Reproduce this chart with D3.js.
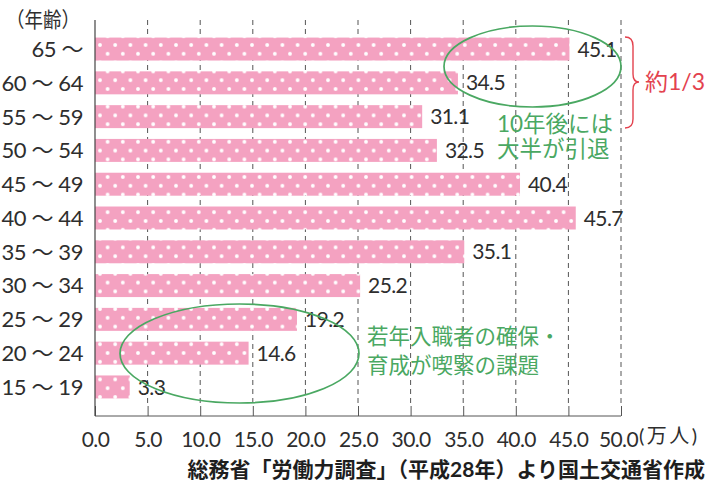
<!DOCTYPE html>
<html>
<head>
<meta charset="utf-8">
<script src="https://cdn.jsdelivr.net/npm/d3@7"></script>
<style>
  html, body { margin: 0; padding: 0; background: #fff; }
  svg { display: block; }
  text { font-family: Lato, "Noto Sans CJK JP", sans-serif; }
</style>
</head>
<body>
<svg id="chart" width="710" height="481"></svg>
<script>
// Workforce by age group (10k people)
const ageGroups = ["65 ～", "60 ～ 64", "55 ～ 59", "50 ～ 54", "45 ～ 49", "40 ～ 44",
                   "35 ～ 39", "30 ～ 34", "25 ～ 29", "20 ～ 24", "15 ～ 19"];
const workers = [45.1, 34.5, 31.1, 32.5, 40.4, 45.7, 35.1, 25.2, 19.2, 14.6, 3.3];
const xTicks = [0, 5, 10, 15, 20, 25, 30, 35, 40, 45, 50];

const svg = d3.select("#chart");
const plotLeft = 95, plotRight = 621, plotTop = 20, plotBottom = 416;

const x = d3.scaleLinear().domain([0, 50]).range([plotLeft, plotRight]);
const y = d3.scaleBand().domain(ageGroups).range([plotTop, plotBottom])
  .paddingInner(0.32).paddingOuter(0.52);

const pink = "#f4a2c1";
const green = "#4aa862";
const red = "#e3424e";
const ink = "#2e2e2e";

// polka-dot fill
const defs = svg.append("defs");
const pat = defs.append("pattern").attr("id", "dots")
  .attr("patternUnits", "userSpaceOnUse")
  .attr("width", 15.2).attr("height", 17.6).attr("x", 100).attr("y", 45);
pat.append("rect").attr("width", 15.2).attr("height", 17.6).attr("fill", pink);
[[0, 0], [15.2, 0], [0, 17.6], [15.2, 17.6], [7.6, 8.8]].forEach(([cx, cy]) =>
  pat.append("circle").attr("cx", cx).attr("cy", cy).attr("r", 1.9).attr("fill", "#fff"));

// dashed gridlines
svg.append("g").selectAll("line").data(xTicks.slice(1)).join("line")
  .attr("x1", d => x(d)).attr("x2", d => x(d))
  .attr("y1", plotTop).attr("y2", plotBottom - 9)
  .attr("stroke", "#555").attr("stroke-width", 1).attr("stroke-dasharray", "5,4");

// bottom axis with short upward ticks
const xAxis = d3.axisBottom(x).tickValues(xTicks).tickSize(-10)
  .tickFormat(d3.format(".1f")).tickPadding(16);
const gx = svg.append("g").attr("transform", `translate(0,${plotBottom})`).call(xAxis);
gx.select(".domain").attr("stroke", "#555").attr("d", `M${plotLeft},0H${plotRight}`);
gx.selectAll(".tick line").attr("stroke", "#555");
gx.selectAll(".tick text").attr("font-size", 21).attr("fill", ink)
  .attr("letter-spacing", "-0.6px")
  .attr("font-family", "Lato, 'Noto Sans CJK JP', sans-serif");
// nudge the last tick label left to leave room for the unit
gx.selectAll(".tick text").filter(d => d === 50).attr("dx", -3);

// unit label
svg.append("text").attr("x", 639).attr("y", 443).attr("font-size", 20).attr("fill", ink)
  .attr("letter-spacing", "2.5px")
  .text("(万人)");

// bars
svg.append("g").selectAll("rect").data(workers).join("rect")
  .attr("x", x(0)).attr("y", (d, i) => y(ageGroups[i]))
  .attr("width", d => x(d) - x(0)).attr("height", y.bandwidth())
  .attr("fill", "url(#dots)");

// left axis line
svg.append("line").attr("x1", plotLeft).attr("x2", plotLeft).attr("y1", plotTop).attr("y2", plotBottom)
  .attr("stroke", "#444").attr("stroke-width", 1.2);

// category labels
svg.append("g").selectAll("text").data(ageGroups).join("text")
  .attr("x", 83).attr("y", d => y(d) + y.bandwidth() / 2)
  .attr("dy", "0.36em").attr("text-anchor", "end")
  .attr("font-size", 22).attr("letter-spacing", "-0.4px").attr("fill", ink).text(d => d);

svg.append("text").attr("x", 6).attr("y", 27).attr("font-size", 21).attr("fill", ink)
  .attr("font-family", "'Noto Sans CJK JP', sans-serif")
  .attr("textLength", 74).attr("lengthAdjust", "spacingAndGlyphs").text("（年齢）");

// value labels
svg.append("g").selectAll("text").data(workers).join("text")
  .attr("x", d => x(d) + 8).attr("y", (d, i) => y(ageGroups[i]) + y.bandwidth() / 2)
  .attr("dy", "0.36em").attr("font-size", 21).attr("letter-spacing", "-0.6px").attr("fill", ink)
  .text(d => d.toFixed(1));

// annotations
svg.append("ellipse").attr("cx", 532.5).attr("cy", 66.5).attr("rx", 88.5).attr("ry", 40.5)
  .attr("fill", "none").attr("stroke", green).attr("stroke-width", 1.7);
svg.append("ellipse").attr("cx", 239.5).attr("cy", 353.5).attr("rx", 119.5).attr("ry", 49.5)
  .attr("fill", "none").attr("stroke", green).attr("stroke-width", 1.7);

const noteA = svg.append("text").attr("font-size", 22.5).attr("fill", green)
  .attr("font-family", "'Noto Sans CJK JP', sans-serif");
noteA.append("tspan").attr("x", 497).attr("y", 132).text("10年後には");
noteA.append("tspan").attr("x", 497).attr("y", 157).text("大半が引退");

const noteB = svg.append("text").attr("font-size", 21.5).attr("fill", green)
  .attr("font-family", "'Noto Sans CJK JP', sans-serif");
noteB.append("tspan").attr("x", 367).attr("y", 344).text("若年入職者の確保・");
noteB.append("tspan").attr("x", 367).attr("y", 373).text("育成が喫緊の課題");

// brace marking the top two groups
svg.append("path")
  .attr("d", "M625,37 Q633,37 633,46 L633,74 Q633,82 639,82 Q633,82 633,90 L633,119 Q633,128 625,128")
  .attr("fill", "none").attr("stroke", red).attr("stroke-width", 1.4);
svg.append("text").attr("x", 645).attr("y", 90).attr("font-size", 23).attr("fill", red)
  .attr("font-family", "'Noto Sans CJK JP', sans-serif").text("約1/3");

// source
svg.append("text").attr("x", 705).attr("y", 477).attr("text-anchor", "end")
  .attr("font-size", 21).attr("font-weight", "bold").attr("fill", "#1e1e1e")
  .attr("font-family", "'Noto Sans CJK JP', sans-serif")
  .text("総務省「労働力調査」（平成28年）より国土交通省作成");
</script>
</body>
</html>
